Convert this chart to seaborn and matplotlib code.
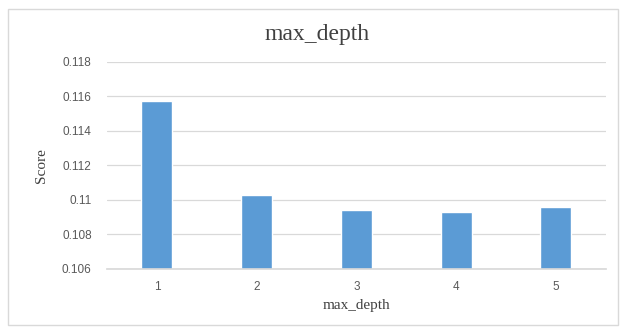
import matplotlib
matplotlib.use('Agg')
import matplotlib.pyplot as plt
import pandas as pd
import seaborn as sns
from matplotlib.patches import Rectangle

depths = ['1', '2', '3', '4', '5']
scores = [0.11575, 0.1103, 0.1094, 0.10928, 0.10958]
y_ticks = [0.106, 0.108, 0.11, 0.112, 0.114, 0.116, 0.118]
y_tick_labels = ['0.106', '0.108', '0.11', '0.112', '0.114', '0.116', '0.118']

df = pd.DataFrame({'max_depth': depths, 'Score': scores})

sns.set_theme(style='white')
plt.rcParams['font.family'] = ['Liberation Sans', 'DejaVu Sans']

fig = plt.figure(figsize=(6.22, 3.29), dpi=100)
ax = fig.add_axes([0.172, 0.183, 0.802, 0.629])

sns.barplot(data=df, x='max_depth', y='Score', color='#5B9BD5',
            saturation=1, width=0.31, ax=ax)

ax.set_ylim(0.106, 0.118)
ax.set_yticks(y_ticks)
ax.set_yticklabels(y_tick_labels)
ax.yaxis.grid(True, color='#D9D9D9', linewidth=0.9)
ax.set_axisbelow(True)
for s in ['top', 'right', 'left']:
    ax.spines[s].set_visible(False)
ax.spines['bottom'].set_color('#D9D9D9')
ax.tick_params(axis='y', length=0, labelsize=8.5, labelcolor='#595959', pad=11)
ax.tick_params(axis='x', length=0, labelsize=8.5, labelcolor='#595959', pad=9)

serif = ['Liberation Serif', 'DejaVu Serif']
ax.set_xlabel('max_depth', fontsize=11, family=serif, color='#404040')
ax.set_ylabel('Score', fontsize=11, family=serif, color='#404040')
ax.xaxis.set_label_coords(0.5, -0.148)
ax.yaxis.set_label_coords(-0.118, 0.5)
fig.text(0.51, 0.895, 'max_depth', ha='center', va='center', fontsize=17,
         family=serif, color='#404040')

fig.patches.append(Rectangle((0.013, 0.012), 0.98, 0.962, transform=fig.transFigure,
                             fill=False, edgecolor='#D9D9D9', linewidth=1))

fig.savefig('out.png', dpi=100)
